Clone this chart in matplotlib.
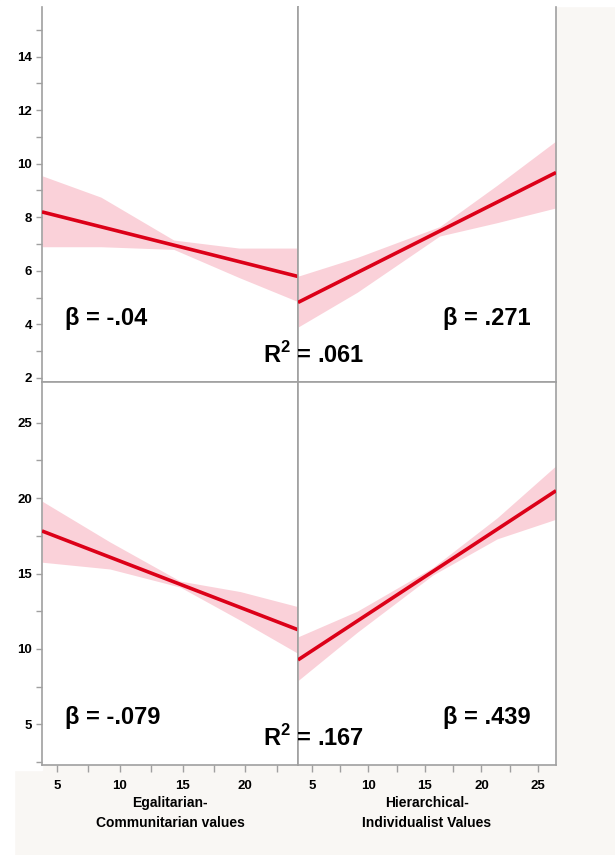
import matplotlib
matplotlib.use("Agg")
import matplotlib.pyplot as plt
import numpy as np

# ---------------- data ----------------
# Top row (y range 2-16)
tl_x = [3.8, 8.5, 14.3, 19.5, 24.2]
tl_line = [8.2, 7.66, 6.96, 6.33, 5.79]
tl_upper = [9.55, 8.75, 7.15, 6.85, 6.85]
tl_lower = [6.9, 6.9, 6.8, 5.75, 4.85]

tr_x = [3.76, 9.0, 16.3, 21.4, 26.6]
tr_line = [4.82, 5.93, 7.48, 8.56, 9.67]
tr_upper = [5.8, 6.5, 7.65, 9.2, 10.85]
tr_lower = [3.9, 5.2, 7.3, 7.8, 8.35]

# Bottom row (y range 2.3-27.7)
bl_x = [3.8, 9.2, 14.8, 19.6, 24.2]
bl_line = [17.82, 16.09, 14.29, 12.75, 11.27]
bl_upper = [19.8, 17.1, 14.5, 13.8, 12.8]
bl_lower = [15.75, 15.3, 14.1, 11.9, 9.7]

br_x = [3.76, 9.0, 15.7, 21.4, 26.6]
br_line = [9.27, 11.84, 15.14, 17.94, 20.49]
br_upper = [10.8, 12.5, 15.4, 18.7, 22.15]
br_lower = [7.9, 11.1, 14.9, 17.3, 18.6]

top_yticks = [2, 4, 6, 8, 10, 12, 14]
bot_yticks = [5, 10, 15, 20, 25]
left_xticks = [5, 10, 15, 20]
right_xticks = [5, 10, 15, 20, 25]

beta_labels = ["β = -.04", "β = .271", "β = -.079", "β = .439"]
r2_labels = [".061", ".167"]
xlabels = ["Egalitarian-\nCommunitarian values", "Hierarchical-\nIndividualist Values"]

# ---------------- figure ----------------
W, H = 615, 855
fig = plt.figure(figsize=(W / 100, H / 100), dpi=100, facecolor="#f9f7f4")
for rect in [(0, 0, 14 / W, 1),
             (0, 1 - 6 / H, 1, 6 / H),
             (14 / W, 1 - 770 / H, 28 / W, 764 / H)]:
    fig.patches.append(plt.Rectangle(rect[:2], rect[2], rect[3],
                                     transform=fig.transFigure,
                                     color="white", zorder=-10))

def fx(px):
    return px / W

def fy(py):
    return 1 - py / H

L0, L1, R1 = 42, 298, 556
T0, MID, B1 = 7, 382, 765

axes = {}
axes["tl"] = fig.add_axes([fx(L0), fy(MID), fx(L1 - L0), (MID - T0) / H])
axes["tr"] = fig.add_axes([fx(L1), fy(MID), fx(R1 - L1), (MID - T0) / H])
axes["bl"] = fig.add_axes([fx(L0), fy(B1), fx(L1 - L0), (B1 - MID) / H])
axes["br"] = fig.add_axes([fx(L1), fy(B1), fx(R1 - L1), (B1 - MID) / H])

fam = ["Liberation Sans", "DejaVu Sans"]
spine_c = "#a0a0a0"
line_c = "#dc0018"
band_c = "#f7b3c0"

series = {
    "tl": (tl_x, tl_line, tl_lower, tl_upper),
    "tr": (tr_x, tr_line, tr_lower, tr_upper),
    "bl": (bl_x, bl_line, bl_lower, bl_upper),
    "br": (br_x, br_line, br_lower, br_upper),
}

for key, ax in axes.items():
    ax.set_facecolor("white")
    x, ln, lo, up = series[key]
    ax.fill_between(x, lo, up, color=band_c, alpha=0.6, lw=0, zorder=1)
    ax.plot([x[0], x[-1]], [ln[0], ln[-1]], color=line_c, lw=2.6,
            solid_capstyle="butt", zorder=3)
    for s in ax.spines.values():
        s.set_color(spine_c)
        s.set_linewidth(1.2)
    if key[0] == "t":
        ax.spines["top"].set_visible(False)
        ax.set_yticks(top_yticks)
        ax.set_yticks(np.arange(3, 16, 2), minor=True)
        ax.set_xticks([])
        ax.set_ylim(1.85, 15.85)
    else:
        ax.set_yticks(bot_yticks)
        ax.set_yticks([2.5, 7.5, 12.5, 17.5, 22.5], minor=True)
        ax.set_ylim(2.3, 27.7)
    if key[1] == "r":
        ax.tick_params(axis="y", which="both", left=False, labelleft=False)

for key, ticks in (("bl", left_xticks), ("br", right_xticks)):
    ax = axes[key]
    ax.set_xticks(ticks)
    ax.set_xticks([t + 2.5 for t in ticks], minor=True)
    ax.tick_params(axis="x", which="both", length=5, pad=6)

for key, ax in axes.items():
    if key[1] == "l":
        ax.set_xlim(3.8, 24.2)
    else:
        ax.set_xlim(3.76, 26.6)
    ax.tick_params(axis="both", which="both", direction="out", color=spine_c,
                   width=1, labelsize=9.5)
    ax.tick_params(axis="y", which="both", length=4, pad=3)
    for lab in ax.get_yticklabels() + ax.get_xticklabels():
        lab.set_fontfamily(fam)
        lab.set_fontweight("bold")

axes["tl"].tick_params(axis="x", which="both", bottom=False, labelbottom=False)
axes["tr"].tick_params(axis="x", which="both", bottom=False, labelbottom=False)

axes["bl"].set_xlabel(xlabels[0], fontfamily=fam, fontweight="bold",
                      fontsize=10, linespacing=1.5, labelpad=3)
axes["br"].set_xlabel(xlabels[1], fontfamily=fam, fontweight="bold",
                      fontsize=10, linespacing=1.5, labelpad=3)

tkw = dict(fontfamily=fam, fontweight="bold", fontsize=17,
           transform=fig.transFigure, va="center", zorder=10)
fig.text(fx(65), fy(318), beta_labels[0], ha="left", **tkw)
fig.text(fx(531), fy(318), beta_labels[1], ha="right", **tkw)
fig.text(fx(65), fy(717), beta_labels[2], ha="left", **tkw)
fig.text(fx(531), fy(717), beta_labels[3], ha="right", **tkw)
fig.text(fx(314), fy(355), "R$^\\mathregular{2}$ = " + r2_labels[0], ha="center", **tkw)
fig.text(fx(314), fy(738), "R$^\\mathregular{2}$ = " + r2_labels[1], ha="center", **tkw)

fig.savefig("out.png", dpi=100, facecolor=fig.get_facecolor())
